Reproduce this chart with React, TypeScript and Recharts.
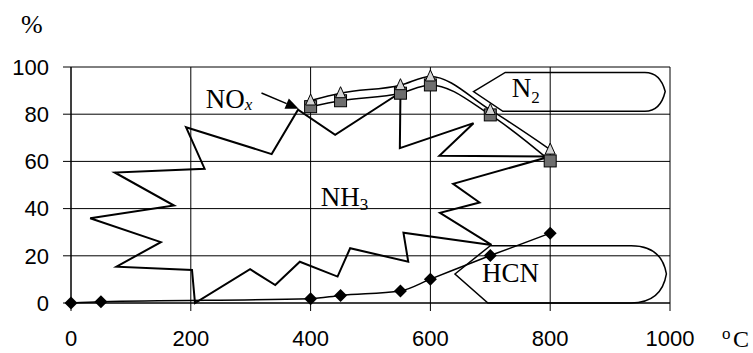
import { LineChart, Line, XAxis, YAxis, CartesianGrid, ReferenceArea } from 'recharts'

const temps = [0, 50, 400, 450, 550, 600, 700, 800]
const hcn = [0, 0.5, 1.8, 3.2, 5.1, 10.1, 20.1, 29.6]
const nox = [null, null, 83.2, 85.7, 88.9, 92.4, 79.7, 60.2]
const n2 = [null, null, 85.8, 88.9, 92.3, 96, 81.8, 65]
const xTicks = [0, 200, 400, 600, 800, 1000]
const yTicks = [0, 20, 40, 60, 80, 100]

// hand-drawn callouts, in chart units (°C, %)
const nh3Burst = [
  [192, 74.5], [335, 63.1], [379, 81.9], [441, 71.3], [550, 89.2], [549, 65.6],
  [672, 76.2], [615, 62.4], [800, 62.1], [638, 50.5], [682, 42.6], [616, 38.2],
  [702, 24.6], [555, 29.8], [563, 17.5], [466, 23.2], [445, 11.2], [382, 17.5],
  [341, 7.6], [299, 14.3], [207, 0], [202, 14], [76, 15.4], [150, 25.8],
  [32, 35.9], [172, 41.3], [73, 55.3], [223, 56.9],
]
const n2Box = { tip: [672, 89.6], left: 725, right: 958, end: 992, top: 97.7, bottom: 81.2 }
const hcnBox = { tip: [641, 12.3], left: 700, right: 935, end: 994, top: 24.3, bottom: 0 }
const noxArrow = [[318, 89], [380, 82.3]]

const serif = '"Liberation Serif", "Times New Roman", serif'
const sans = '"Liberation Sans", Arial, sans-serif'

const Diamond = (p: any) => {
  const { cx, cy, index } = p
  if (cx == null || cy == null) return <g key={`hd${index}`} />
  const r = 6.5
  return <path key={`hd${index}`} d={`M${cx},${cy - r}L${cx + r},${cy}L${cx},${cy + r}L${cx - r},${cy}Z`} fill="#000" />
}

const Square = (p: any) => {
  const { cx, cy, index } = p
  if (cx == null || cy == null) return <g key={`sq${index}`} />
  return <rect key={`sq${index}`} x={cx - 6} y={cy - 6} width={12} height={12} fill="#6e6e6e" stroke="#000" strokeWidth={1} />
}

const Triangle = (p: any) => {
  const { cx, cy, index } = p
  if (cx == null || cy == null) return <g key={`tr${index}`} />
  return <path key={`tr${index}`} d={`M${cx},${cy - 6.5}L${cx + 5},${cy + 4.5}L${cx - 5},${cy + 4.5}Z`} fill="#d4d4d4" stroke="#000" strokeWidth={1} />
}

function Annotations(props: any) {
  const { x, y, width, height } = props
  const px = (t: number) => x + (t / 1000) * width
  const py = (v: number) => y + height - (v / 100) * height

  const burst = nh3Burst.map(([t, v]) => `${px(t)},${py(v)}`).join(' ')

  const callout = (b: typeof n2Box) => {
    const ctrl = b.end - 8
    return `M${px(b.tip[0])},${py(b.tip[1])} L${px(b.left)},${py(b.top)} L${px(b.right)},${py(b.top)} ` +
      `Q${px(ctrl)},${py(b.top)} ${px(b.end)},${py(b.tip[1])} ` +
      `Q${px(ctrl)},${py(b.bottom)} ${px(b.right)},${py(b.bottom)} L${px(b.left - 4)},${py(b.bottom)} Z`
  }

  const [a0, a1] = noxArrow
  const x0 = px(a0[0]), y0 = py(a0[1]), x1 = px(a1[0]), y1 = py(a1[1])
  const len = Math.hypot(x1 - x0, y1 - y0)
  const ux = (x1 - x0) / len, uy = (y1 - y0) / len
  const bx = x1 - ux * 13, by = y1 - uy * 13
  const head = `${x1},${y1} ${bx - uy * 5.5},${by + ux * 5.5} ${bx + uy * 5.5},${by - ux * 5.5}`

  return (
    <g>
      <polygon points={burst} fill="none" stroke="#000" strokeWidth={2} strokeLinejoin="miter" />
      <path d={callout(n2Box)} fill="none" stroke="#000" strokeWidth={1.5} />
      <path d={callout(hcnBox)} fill="none" stroke="#000" strokeWidth={1.5} />
      <line x1={x0} y1={y0} x2={bx} y2={by} stroke="#000" strokeWidth={1.5} />
      <polygon points={head} fill="#000" />

      <text x={px(225)} y={py(82.6)} fontFamily={serif} fontSize={27} fill="#000">
        NO<tspan fontStyle="italic" fontSize={17} dy={2}>x</tspan>
      </text>
      <text x={px(417)} y={py(41.3)} fontFamily={serif} fontSize={27} fill="#000">
        NH<tspan fontSize={17} dy={4}>3</tspan>
      </text>
      <text x={px(736)} y={py(87.5)} fontFamily={serif} fontSize={27} fill="#000">
        N<tspan fontSize={17} dy={6}>2</tspan>
      </text>
      <text x={px(686)} y={py(9)} fontFamily={serif} fontSize={27} fill="#000">HCN</text>

      <text x={x - 50} y={y - 34} fontFamily={serif} fontSize={26} fill="#000">%</text>
      <text x={x + width + 52} y={y + height + 36} fontFamily={serif} fontSize={17} fill="#000">o</text>
      <text x={x + width + 63} y={y + height + 44} fontFamily={serif} fontSize={24} fill="#000">C</text>
    </g>
  )
}

export default function App() {
  const data = temps.map((t, i) => ({ t, hcn: hcn[i], nox: nox[i], n2: n2[i] }))
  const tick = { fill: '#000', fontSize: 22, fontFamily: sans }
  return (
    <div style={{ position: 'absolute', left: 0, top: 0 }}>
      <LineChart width={753} height={353} data={data} margin={{ top: 67, right: 83, bottom: 10, left: 0 }}>
        <CartesianGrid stroke="#000" strokeWidth={1} />
        <XAxis
          dataKey="t"
          type="number"
          domain={[0, 1000]}
          ticks={xTicks}
          height={40}
          tickSize={8}
          tickMargin={19}
          stroke="#000"
          tick={tick}
        />
        <YAxis
          type="number"
          domain={[0, 100]}
          ticks={yTicks}
          width={71}
          tickSize={8}
          tickMargin={14}
          stroke="#000"
          tick={tick}
        />
        <ReferenceArea x1={0} x2={1000} y1={0} y2={100} shape={Annotations} />
        <Line dataKey="nox" type="monotone" stroke="#000" strokeWidth={1.5} dot={Square} isAnimationActive={false} />
        <Line dataKey="n2" type="monotone" stroke="#000" strokeWidth={1.5} dot={Triangle} isAnimationActive={false} />
        <Line dataKey="hcn" type="monotone" stroke="#000" strokeWidth={1.5} dot={Diamond} isAnimationActive={false} />
      </LineChart>
    </div>
  )
}
